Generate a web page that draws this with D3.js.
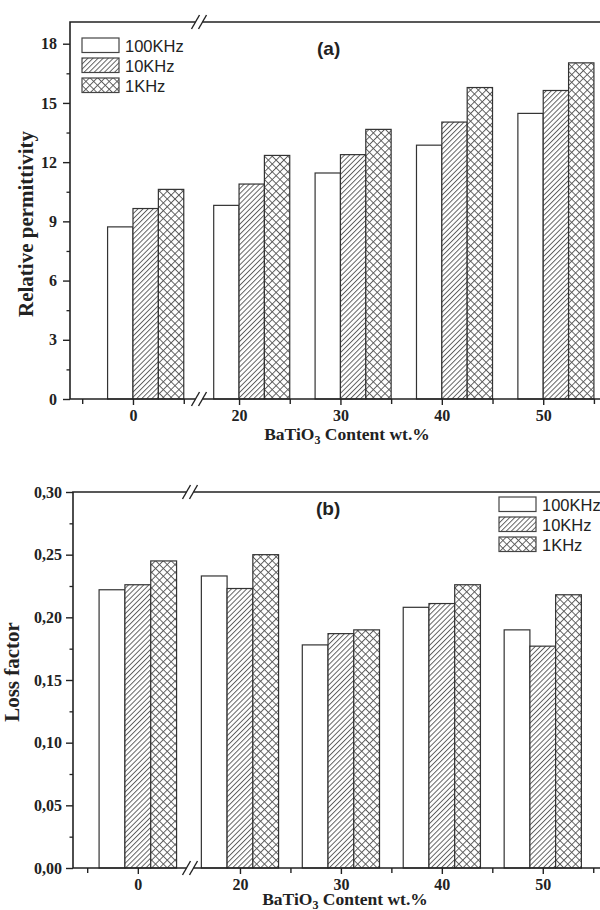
<!DOCTYPE html>
<html lang="en">
<head>
<meta charset="UTF-8">
<title>BaTiO3 content: permittivity and loss factor</title>
<style>
  body { margin: 0; background: #fff; }
  .serif { font-family: "Liberation Serif", "Times New Roman", serif; font-weight: bold; }
  .sans { font-family: "Liberation Sans", Arial, sans-serif; }
</style>
</head>
<body>
<svg id="chart" width="600" height="910"></svg>
<script src="https://d3js.org/d3.v7.min.js"></script>
<script>
// BaTiO3 content (wt.%) and the three measuring frequencies
const contents = [0, 20, 30, 40, 50];
const freqs = ["100KHz", "10KHz", "1KHz"];

// (a) relative permittivity
const perm100k = [8.72, 9.81, 11.45, 12.86, 14.47];
const perm10k  = [9.65, 10.89, 12.38, 14.03, 15.63];
const perm1k   = [10.62, 12.34, 13.66, 15.78, 17.03];

// (b) loss factor
const loss100k = [0.222, 0.233, 0.178, 0.208, 0.190];
const loss10k  = [0.226, 0.223, 0.187, 0.211, 0.177];
const loss1k   = [0.245, 0.250, 0.190, 0.226, 0.218];

// tick values
const permTicks = [0, 3, 6, 9, 12, 15, 18];
const permMinor = [1.5, 4.5, 7.5, 10.5, 13.5, 16.5];
const lossTicks = [0, 0.05, 0.10, 0.15, 0.20, 0.25, 0.30];
const lossMinor = [0.025, 0.075, 0.125, 0.175, 0.225, 0.275];
const xMinorA = [-5, 5, 25, 35, 45, 55];
const xMinorB = [-5, 25, 35, 45, 55];

const svg = d3.select("#chart");
const defs = svg.append("defs");

// hatch for 10KHz
const hatch = defs.append("pattern").attr("id", "hatch")
  .attr("patternUnits", "userSpaceOnUse").attr("width", 3.6).attr("height", 3.6)
  .attr("patternTransform", "rotate(45)");
hatch.append("rect").attr("width", 3.6).attr("height", 3.6).attr("fill", "#fff");
hatch.append("line").attr("x1", 0.5).attr("y1", 0).attr("x2", 0.5).attr("y2", 3.6)
  .attr("stroke", "#555").attr("stroke-width", 0.9);

// cross hatch for 1KHz
const cross = defs.append("pattern").attr("id", "cross")
  .attr("patternUnits", "userSpaceOnUse").attr("width", 5.5).attr("height", 5.5)
  .attr("patternTransform", "rotate(45)");
cross.append("rect").attr("width", 5.5).attr("height", 5.5).attr("fill", "#fff");
cross.append("line").attr("x1", 0.5).attr("y1", 0).attr("x2", 0.5).attr("y2", 5.5)
  .attr("stroke", "#555").attr("stroke-width", 0.9);
cross.append("line").attr("x1", 0).attr("y1", 0.5).attr("x2", 5.5).attr("y2", 0.5)
  .attr("stroke", "#555").attr("stroke-width", 0.9);

const fills = ["#fff", "url(#hatch)", "url(#cross)"];
const ink = "#222";

function panel(o) {
  const g = svg.append("g");
  const x = d3.scaleLinear().domain(o.xDomain).range(o.xRange);
  const y = d3.scaleLinear().domain(o.yDomain).range([o.bottom, o.top]);
  const left = o.xRange[0], right = o.xRange[o.xRange.length - 1];

  // bars
  o.series.forEach(function (vals, s) {
    g.append("g").selectAll("rect")
      .data(vals)
      .enter()
      .append("rect")
      .attr("x", (d, i) => x(contents[i] + (s + o.shift) * o.barW))
      .attr("width", (d, i) => x(contents[i] + (s + 1 + o.shift) * o.barW) - x(contents[i] + (s + o.shift) * o.barW))
      .attr("y", d => y(d))
      .attr("height", d => o.bottom - y(d))
      .attr("fill", fills[s])
      .attr("stroke", "#333")
      .attr("stroke-width", 1.2);
  });

  // x axis
  const xa = g.append("g").attr("class", "serif").attr("transform", "translate(0," + o.bottom + ")")
    .call(d3.axisBottom(x).tickValues(contents).tickSize(6).tickSizeOuter(0).tickFormat(d3.format("d")));
  xa.select(".domain").remove();
  xa.selectAll(".tick line").attr("stroke", ink).attr("stroke-width", 1.4);
  xa.selectAll("text").attr("y", 22).attr("dy", null).attr("font-size", 16).attr("fill", ink)
    .attr("font-family", null);
  const xm = g.append("g").attr("transform", "translate(0," + o.bottom + ")")
    .call(d3.axisBottom(x).tickValues(o.xMinor).tickSize(5).tickSizeOuter(0).tickFormat(""));
  xm.select(".domain").remove();
  xm.selectAll(".tick line").attr("stroke", ink).attr("stroke-width", 1.4);

  // y axis
  const ya = g.append("g").attr("class", "serif").attr("transform", "translate(" + left + ",0)")
    .call(d3.axisLeft(y).tickValues(o.yTicks).tickSize(7).tickSizeOuter(0).tickFormat(o.yFormat));
  ya.select(".domain").remove();
  ya.selectAll(".tick line").attr("stroke", ink).attr("stroke-width", 1.4);
  ya.selectAll("text").attr("x", o.yLabelX).attr("font-size", 16).attr("fill", ink)
    .attr("font-family", null);
  const ym = g.append("g").attr("transform", "translate(" + left + ",0)")
    .call(d3.axisLeft(y).tickValues(o.yMinor).tickSize(3.5).tickSizeOuter(0).tickFormat(""));
  ym.select(".domain").remove();
  ym.selectAll(".tick line").attr("stroke", ink).attr("stroke-width", 1.3);

  // frame: left, top, bottom
  g.append("path")
    .attr("d", "M" + right + "," + o.top + "H" + left + "V" + o.bottom + "H" + right)
    .attr("fill", "none").attr("stroke", ink).attr("stroke-width", 1.6);

  // axis break marks
  const bx = x(o.breakAt);
  [o.top, o.bottom].forEach(function (yy) {
    g.append("rect").attr("x", bx - 3.5).attr("y", yy - 2).attr("width", 7).attr("height", 4).attr("fill", "#fff");
    [-3.5, 3.5].forEach(function (dx) {
      g.append("line")
        .attr("x1", bx + dx - 4).attr("y1", yy + 7)
        .attr("x2", bx + dx + 4).attr("y2", yy - 7)
        .attr("stroke", ink).attr("stroke-width", 1.4);
    });
  });

  // titles
  const xt = g.append("text").attr("class", "serif").attr("font-size", 17.5).attr("fill", ink)
    .attr("text-anchor", "middle").attr("x", o.xTitle[0]).attr("y", o.xTitle[1]);
  xt.append("tspan").text("BaTiO");
  xt.append("tspan").attr("font-size", 12).attr("dy", 3.5).text("3");
  xt.append("tspan").attr("dy", -3.5).text(" Content wt.%");

  g.append("text").attr("class", "serif").attr("font-size", 21).attr("fill", ink)
    .attr("text-anchor", "middle")
    .attr("transform", "translate(" + o.yTitle[0] + "," + o.yTitle[1] + ") rotate(-90)")
    .text(o.yTitleText);

  g.append("text").attr("class", "sans").attr("font-size", 19).attr("font-weight", "bold")
    .attr("fill", ink).attr("x", o.tag[0]).attr("y", o.tag[1]).text(o.tagText);

  // legend
  const lg = g.append("g").attr("transform", "translate(" + o.legend[0] + "," + o.legend[1] + ")");
  freqs.forEach(function (f, i) {
    lg.append("rect").attr("x", 0).attr("y", i * 20).attr("width", 37).attr("height", 14.5)
      .attr("fill", fills[i]).attr("stroke", "#444").attr("stroke-width", 1.2);
    lg.append("text").attr("class", "sans").attr("font-size", 16.5).attr("fill", ink)
      .attr("x", 43).attr("y", i * 20 + 13.5).text(f);
  });
}

panel({
  series: [perm100k, perm10k, perm1k],
  xDomain: [-6.2, 6.5, 16.05, 55.6], xRange: [70, 199, 199, 600],
  yDomain: [0, 19.1], top: 22, bottom: 399,
  barW: 2.5, shift: -1, breakAt: 6.5,
  xMinor: xMinorA, yTicks: permTicks, yMinor: permMinor,
  yFormat: d3.format("d"), yLabelX: -13,
  xTitle: [347, 440], yTitle: [33, 224], yTitleText: "Relative permittivity",
  tag: [317, 55], tagText: "(a)", legend: [82, 38]
});

panel({
  series: [loss100k, loss10k, loss1k],
  xDomain: [-6.4, 5.15, 15.05, 55.67], xRange: [73, 190, 190, 600],
  yDomain: [0, 0.30], top: 492, bottom: 868,
  barW: 2.55, shift: -1.5, breakAt: 5.15,
  xMinor: xMinorB, yTicks: lossTicks, yMinor: lossMinor,
  yFormat: d => d3.format(".2f")(d).replace(".", ","), yLabelX: -11,
  xTitle: [345, 905], yTitle: [19, 672], yTitleText: "Loss factor",
  tag: [316, 515], tagText: "(b)", legend: [499, 497]
});
</script>
</body>
</html>
